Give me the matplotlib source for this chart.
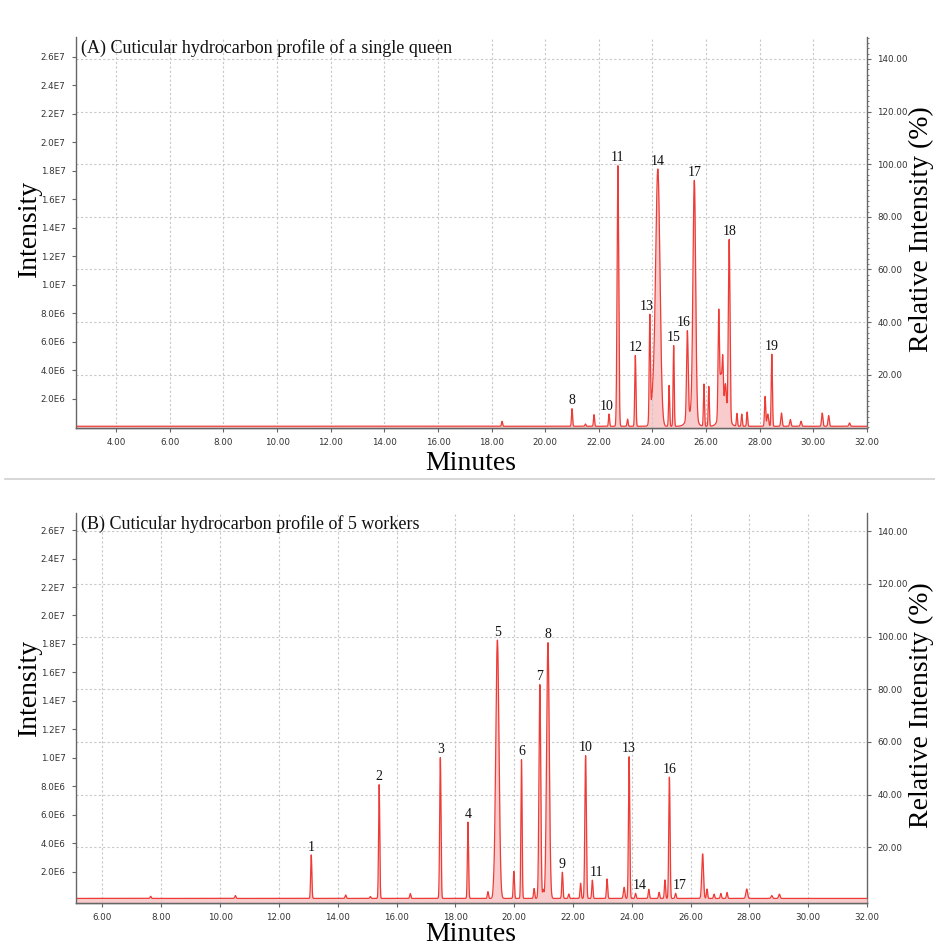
import matplotlib
matplotlib.use("Agg")
import matplotlib.pyplot as plt
import numpy as np
from matplotlib.lines import Line2D
from matplotlib.ticker import FixedLocator, FuncFormatter, MultipleLocator

# ---------------------------------------------------------------
# Peak tables (retention time in min,
# peak height in counts, peak sigma in min)
# ---------------------------------------------------------------
queen_rt = [18.39, 21.00, 21.50, 21.82, 22.38, 22.71, 23.07, 23.36, 23.90,
            24.02, 24.20, 24.62, 24.79, 25.30, 25.45, 25.56, 25.92,
            26.10, 26.47, 26.55, 26.62, 26.66, 26.72, 26.86, 27.15, 27.33,
            27.53, 28.20, 28.30, 28.45, 28.81, 29.14, 29.54, 30.33, 30.57,
            31.35]
queen_height = [0.35e6, 1.24e6, 0.16e6, 0.82e6, 0.86e6, 18.3e6, 0.50e6,
                4.97e6, 7.2e6, 2.0e6, 17.9e6, 2.87e6, 5.67e6, 6.1e6,
                1.0e6, 16.5e6, 2.96e6, 2.8e6, 7.2e6, 2.5e6, 3.0e6, 1.5e6,
                1.6e6, 12.5e6, 0.9e6, 0.86e6, 1.0e6, 2.1e6, 0.86e6, 5.06e6,
                0.93e6, 0.47e6, 0.35e6, 0.93e6, 0.75e6, 0.23e6]
queen_sigma = [0.02, 0.02, 0.02, 0.02, 0.02, 0.03, 0.02, 0.022, 0.022,
               0.08, 0.08, 0.02, 0.02, 0.03, 0.15, 0.05, 0.02,
               0.02, 0.025, 0.04, 0.022, 0.15, 0.03, 0.03, 0.02, 0.02,
               0.02, 0.022, 0.03, 0.022, 0.025, 0.025, 0.025, 0.025, 0.025,
               0.025]
queen_labels = ["8", "10", "11", "12", "13", "14", "15", "16", "17", "18", "19"]
queen_label_rt = [21.00, 22.38, 22.71, 23.36, 23.90, 24.20, 24.79, 25.30,
                  25.56, 26.86, 28.45]

worker_rt = [7.64, 10.52, 13.10, 14.27, 15.11, 15.41, 16.47, 17.49, 18.43,
             19.11, 19.30, 19.43, 19.99, 20.25, 20.68, 20.875, 20.99, 21.15,
             21.64, 21.86, 22.26, 22.43, 22.66, 23.16, 23.74, 23.91, 24.13,
             24.58, 24.93, 25.13, 25.28, 25.49, 26.41, 26.56, 26.80, 27.03,
             27.24, 27.91, 28.76, 29.02]
worker_height = [0.15e6, 0.2e6, 3.06e6, 0.24e6, 0.13e6, 7.99e6, 0.34e6,
                 9.9e6, 5.36e6, 0.48e6, 0.3e6, 18.15e6, 1.89e6, 9.75e6,
                 0.7e6, 15.03e6, 0.6e6, 17.97e6, 1.84e6, 0.31e6, 1.07e6,
                 10.03e6, 1.28e6, 1.37e6, 0.78e6, 9.96e6, 0.36e6, 0.64e6,
                 0.43e6, 1.3e6, 8.53e6, 0.36e6, 3.13e6, 0.66e6, 0.3e6,
                 0.35e6, 0.42e6, 0.66e6, 0.2e6, 0.3e6]
worker_sigma = [0.02, 0.02, 0.02, 0.02, 0.02, 0.02, 0.02, 0.022, 0.02,
                0.02, 0.02, 0.055, 0.02, 0.02, 0.02, 0.03, 0.02, 0.045,
                0.02, 0.02, 0.02, 0.025, 0.02, 0.02, 0.025, 0.022, 0.02,
                0.02, 0.02, 0.02, 0.022, 0.02, 0.03, 0.02, 0.02, 0.02,
                0.02, 0.03, 0.025, 0.025]
worker_labels = ["1", "2", "3", "4", "5", "6", "7", "8", "9", "10", "11",
                 "13", "14", "16", "17"]
worker_label_rt = [13.10, 15.41, 17.49, 18.43, 19.43, 20.25, 20.875, 21.15,
                   21.64, 22.43, 22.66, 23.91, 24.13, 25.28, 25.49]

# ---------------------------------------------------------------
fig = plt.figure(figsize=(9.35, 9.5), dpi=100)
fig.patch.set_facecolor("white")

SERIF = "Liberation Serif"
LINE = "#ee3b36"
FILL = "#f6bcbc"
GRID = "#c8c8c8"

# horizontal label nudges in points (label text vs. peak apex)
nudge_a = {"10": -1.5, "13": -2.5, "16": -2.5}
nudge_b = {"11": 3, "14": 3, "17": 3}


def trace(t, rts, hs, sig, base):
    y = np.full_like(t, base)
    for r, h, s in zip(rts, hs, sig):
        y += h * np.exp(-0.5 * ((t - r) / s) ** 2)
    return y


def sci(v, pos):
    e = int(np.floor(np.log10(v)))
    return f"{v / 10 ** e:.1f}E{e}"


def panel(rect, xlim, ylim, ref, rts, hs, sig, base, labels, label_rt,
          title, xticks, nudge, minor_right):
    ax2 = fig.add_axes(rect)
    ax = fig.add_axes(rect, sharex=ax2)
    ax2.set_zorder(0)
    ax.set_zorder(1)
    ax.patch.set_visible(False)

    t = np.linspace(xlim[0], xlim[1], 12000)
    y = trace(t, rts, hs, sig, base)
    ax.fill_between(t, ylim[0], y, color=FILL, alpha=0.75, lw=0)
    ax.plot(t, y, color=LINE, lw=0.9)

    for lab, r in zip(labels, label_rt):
        near = np.abs(t - r) < 0.03
        top = y[near].max()
        ax.annotate(lab, (r, top), xytext=(nudge.get(lab, 0), 1),
                    textcoords="offset points", ha="center", va="bottom",
                    fontsize=10, family=SERIF, color="#111111")

    ax.set_xlim(*xlim)
    ax.set_ylim(*ylim)
    ax2.set_ylim(ylim[0] / ref * 100, ylim[1] / ref * 100)

    # left intensity axis
    ax.yaxis.set_major_locator(FixedLocator(np.arange(2e6, 2.61e7, 2e6)))
    ax.yaxis.set_major_formatter(FuncFormatter(sci))
    ax.xaxis.set_major_locator(FixedLocator(xticks))
    ax.xaxis.set_major_formatter(FuncFormatter(lambda v, p: f"{v:.2f}"))

    # right relative axis, drawn underneath (its grid sits behind trace)
    ax2.yaxis.tick_right()
    ax2.yaxis.set_major_locator(FixedLocator(np.arange(20, 141, 20)))
    ax2.yaxis.set_major_formatter(FuncFormatter(lambda v, p: f"{v:.2f}"))
    if minor_right:
        ax2.yaxis.set_minor_locator(MultipleLocator(2))
        ax2.tick_params(axis="y", which="minor", length=1.5, color="#666666")
    ax2.grid(axis="y", color=GRID, lw=0.8, ls=(0, (2, 2)))
    ax2.tick_params(axis="x", bottom=False, labelbottom=False)
    ax.grid(axis="x", color=GRID, lw=0.8, ls=(0, (2, 2)))

    for a in (ax, ax2):
        for s in a.spines.values():
            s.set_color("#666666")
            s.set_linewidth(1.0)
        a.spines["top"].set_visible(False)
        a.tick_params(labelsize=6.3, labelcolor="#333333", color="#666666",
                      length=3, width=0.8, pad=4.5)
    ax.spines["right"].set_visible(False)
    ax2.spines["left"].set_visible(False)

    ax.text(0.006, 0.995, title, transform=ax.transAxes, ha="left", va="top",
            fontsize=13, family=SERIF, color="#111111")
    return ax


left, width = 76 / 935, 791 / 935
panel([left, 0.5495, width, 0.4116], (2.5, 32.0), (-0.05e6, 2.74e7), 1.847e7,
      queen_rt, queen_height, queen_sigma, 0.07e6, queen_labels,
      queen_label_rt, "(A) Cuticular hydrocarbon profile of a single queen",
      np.arange(4, 32.1, 2), nudge_a, True)
panel([left, 0.0495, width, 0.4105], (5.1, 32.0), (-0.2e6, 2.72e7), 1.852e7,
      worker_rt, worker_height, worker_sigma, 0.12e6, worker_labels,
      worker_label_rt, "(B) Cuticular hydrocarbon profile of 5 workers",
      np.arange(6, 32.1, 2), nudge_b, False)

# axis titles
for yc_x, yc_i, yc_r in [(0.5126, 0.760, 0.759), (0.0158, 0.2768, 0.258)]:
    fig.text(0.5037, yc_x, "Minutes", ha="center", va="center",
             fontsize=20, family=SERIF)
    fig.text(0.031, yc_i, "Intensity", ha="center", va="center",
             rotation=90, fontsize=20, family=SERIF)
    fig.text(0.986, yc_r, "Relative Intensity (%)", ha="center",
             va="center", rotation=90, fontsize=20, family=SERIF)

# separator between the two panels
fig.add_artist(Line2D([0.005, 1.0], [1 - 479 / 950] * 2, color="#cfcfcf",
                      lw=1.2))

fig.savefig("out.png", dpi=100)
